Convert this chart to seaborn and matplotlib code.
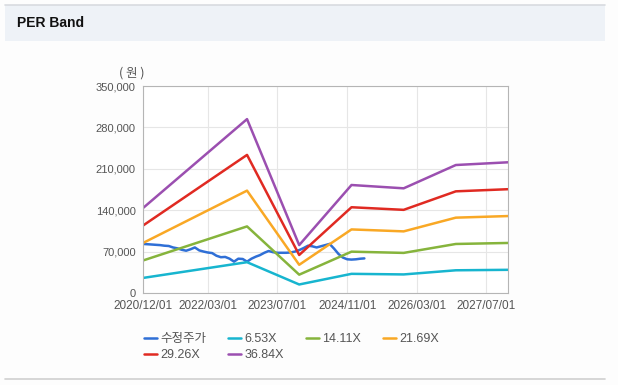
import pandas as pd
import numpy as np
import matplotlib
matplotlib.use("Agg")
import matplotlib.pyplot as plt
import matplotlib.dates as mdates
from matplotlib.patches import Rectangle
from matplotlib.lines import Line2D
import seaborn as sns

# adjusted share price, monthly from 2020/12
price_start = "2020-12-01"
price = [83000, 82500, 82000, 81500, 81000, 80000, 79500, 77000, 75500, 73000,
         71500, 74000, 77000, 72000, 70000, 68500, 67500, 63000, 60500, 61000,
         58000, 53000, 58000, 57500, 53000, 58000, 61500, 64000, 68000, 71000,
         69000, 68000, 68000, 68000, 68500, 70000, 72500, 76000, 80000, 79000,
         77000, 79000, 81000, 83000, 75000, 66000, 60000, 57000, 56500, 57000,
         58000, 58500]

# PER band knots (yearly)
band_dates = ["2020-12-01", "2022-12-01", "2023-12-01", "2024-12-01",
              "2025-12-01", "2026-12-01", "2027-12-01"]
band_653 = [25400, 52100, 14400, 32400, 31400, 38400, 39200]
band_1411 = [54800, 112600, 31000, 69900, 67800, 82900, 84600]
band_2169 = [84300, 173100, 47700, 107500, 104200, 127400, 130100]
band_2926 = [113700, 233500, 64300, 145000, 140600, 171900, 175500]
band_3684 = [143200, 294000, 81000, 182600, 177000, 216400, 221000]

series_names = ["수정주가", "6.53X", "14.11X", "21.69X", "29.26X", "36.84X"]
colors = ["#2f6fd6", "#17b5cf", "#86b43c", "#f9a825", "#e02a22", "#9b4fb0"]

x_ticks = ["2020-12-01", "2022-03-01", "2023-07-01", "2024-11-01", "2026-03-01", "2027-07-01"]
y_ticks = [0, 70000, 140000, 210000, 280000, 350000]

# build long frame
frames = [pd.DataFrame({"date": pd.date_range(price_start, periods=len(price), freq="MS"),
                        "value": price, "series": series_names[0]})]
for name, vals in zip(series_names[1:], [band_653, band_1411, band_2169, band_2926, band_3684]):
    frames.append(pd.DataFrame({"date": pd.to_datetime(band_dates), "value": vals, "series": name}))
data = pd.concat(frames, ignore_index=True)

sns.set_theme(style="white")
plt.rcParams["font.family"] = ["Liberation Sans", "Noto Sans CJK KR", "DejaVu Sans"]

fig = plt.figure(figsize=(6.18, 3.85), dpi=100)
fig.patch.set_facecolor("#fdfdfd")

# header band
fig.patches.append(Rectangle((5 / 618, 1 - 41 / 385), 600 / 618, 36 / 385, transform=fig.transFigure,
                             facecolor="#eef2f7", edgecolor="none", zorder=0))
fig.lines.append(Line2D([5 / 618, 605 / 618], [1 - 5 / 385] * 2, transform=fig.transFigure,
                        color="#d8dbe0", lw=1.2))
fig.lines.append(Line2D([5 / 618, 605 / 618], [1 - 379 / 385] * 2, transform=fig.transFigure,
                        color="#d0d0d0", lw=1.2))
fig.text(17 / 618, 1 - 23 / 385, "PER Band", fontsize=10, fontweight="bold", color="#111111",
         va="center", ha="left", family=["Liberation Sans", "DejaVu Sans"])

ax = fig.add_axes([142.7 / 618, 1 - 293 / 385, (508 - 142.7) / 618, (293 - 86) / 385])
ax.set_facecolor("white")

sns.lineplot(data=data, x="date", y="value", hue="series", hue_order=series_names,
             palette=dict(zip(series_names, colors)), estimator=None, linewidth=1.8, ax=ax)

ax.set_xlim(pd.Timestamp("2020-12-01"), pd.Timestamp("2027-12-01"))
ax.set_ylim(0, 350000)
ax.set_xticks(pd.to_datetime(x_ticks))
ax.xaxis.set_major_formatter(mdates.DateFormatter("%Y/%m/%d"))
ax.set_yticks(y_ticks)
ax.set_yticklabels([f"{v:,}" for v in y_ticks])
ax.set_xlabel("")
ax.set_ylabel("")
ax.grid(True, color="#e6e6e6", lw=0.8)
for s in ax.spines.values():
    s.set_color("#b5b5b5")
    s.set_linewidth(0.8)
ax.tick_params(axis="y", labelsize=8, colors="#555555", length=3, width=0.8, pad=2)
ax.tick_params(axis="x", labelsize=8.5, colors="#555555", length=3, width=0.8, pad=2)
ax.tick_params(axis="both", color="#999999")
ax.text(-0.03, 1.03, "( 원 )", transform=ax.transAxes, ha="center", va="bottom",
        fontsize=9, color="#555555", family=["Noto Sans CJK KR", "DejaVu Sans"])

# legend, row-wise order
handles, labels = ax.get_legend_handles_labels()
ax.get_legend().remove()
order = [0, 4, 1, 5, 2, 3]
fig.legend([handles[i] for i in order], [labels[i] for i in order], ncol=4,
           loc="upper left", bbox_to_anchor=(133 / 618, 1 - 322 / 385), frameon=False,
           fontsize=9, handlelength=1.0, handletextpad=0.3, columnspacing=1.75,
           labelspacing=0.3, labelcolor="#555555")

fig.savefig("out.png", dpi=100, facecolor=fig.get_facecolor())
